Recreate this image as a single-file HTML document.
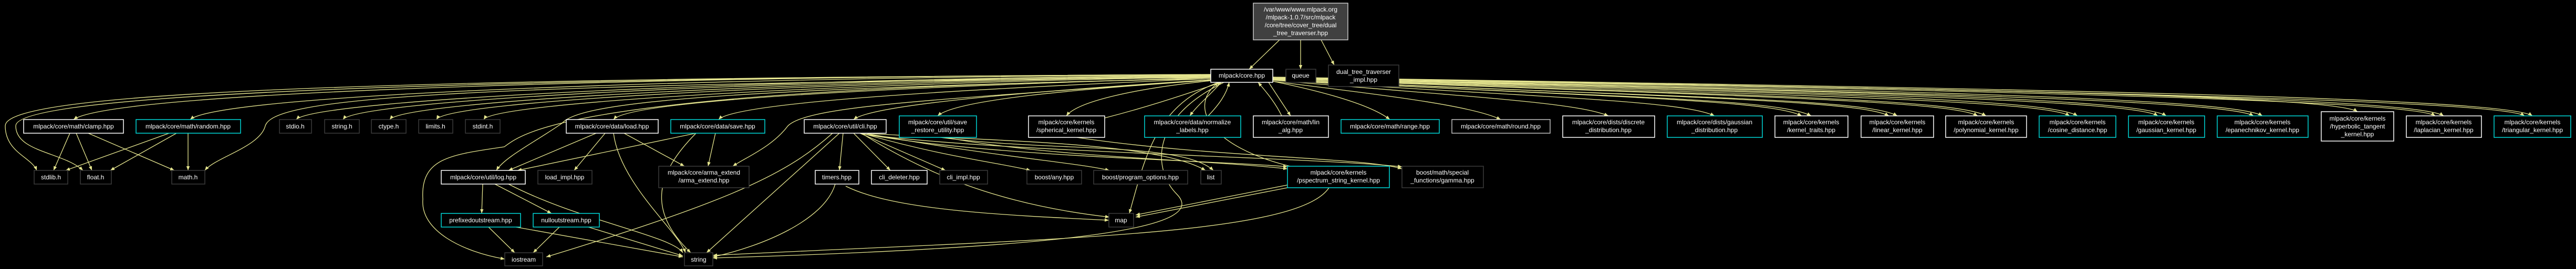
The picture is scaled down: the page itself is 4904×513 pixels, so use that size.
<!DOCTYPE html>
<html><head><meta charset="utf-8"><style>
html,body{margin:0;padding:0;background:#000;width:4904px;height:513px;overflow:hidden}
svg{display:block}
text{font-family:"Liberation Sans",sans-serif;font-size:12px;fill:#fff;text-anchor:middle}
.e{fill:none;stroke:#e6e68f;stroke-width:1.3}
.w{fill:#000;stroke:#fff;stroke-width:1.5}
.c{fill:#000;stroke:#00d8d8;stroke-width:1.5}
.g{fill:#000;stroke:#3a3a3a;stroke-width:1.5}
.l{fill:#000;stroke:#c0c0c0;stroke-width:1.5}
</style></head><body>
<svg width="4904" height="513" viewBox="0 0 4904 513" xmlns="http://www.w3.org/2000/svg">
<defs><marker id="a" viewBox="0 0 10 10" refX="10" refY="5" markerWidth="8" markerHeight="8" orient="auto" markerUnits="userSpaceOnUse"><path d="M0,1 L10,5 L0,9 z" fill="#e6e68f"/></marker></defs>
<g class="e" marker-end="url(#a)">
<path d="M2436,76 L2378,132"/><path d="M2476,76 L2476,132"/><path d="M2515,76 L2540,124"/>
<!-- core left fan -->
<path d="M2305,142 C1220,146 214,175 140,228"/>
<path d="M2305,143 C1330,147 420,180 362,228"/>
<path d="M2305,144 C1430,150 600,190 564,228"/>
<path d="M2305,144 C1480,152 680,190 653,228"/>
<path d="M2305,145 C1520,154 770,192 742,228"/>
<path d="M2305,146 C1570,156 850,192 831,228"/>
<path d="M2305,147 C1610,158 940,195 921,228"/>
<path d="M2305,148 C1730,165 1200,190 1168,228"/>
<path d="M2305,150 C1830,170 1400,195 1368,228"/>
<path d="M2305,152 C1950,175 1660,200 1625,228"/>
<path d="M2305,153 C2050,170 1820,190 1785,221"/>
<path d="M2305,154 C2150,170 2050,195 2030,221"/>
<path d="M2325,157 C2300,185 2280,200 2265,221"/>
<path d="M2305,142 C600,150 10,180 10,240 C10,290 60,300 70,325"/>
<path d="M2305,142 C700,150 30,185 30,240 C30,290 120,290 158,325"/>
<path d="M2305,148 C800,160 520,190 505,240 C495,280 410,300 390,325"/>
<path d="M2305,150 C1300,170 1100,200 1070,235 C1020,270 960,300 945,325"/>
<path d="M2305,152 C1800,190 1540,200 1500,240 C1470,280 1420,300 1395,317"/>
<path d="M2305,150 C1100,170 1000,250 960,280 C860,295 800,300 805,380 C800,440 880,480 961,494"/>
<!-- core right fan -->
<path d="M2415,157 L2457,221"/>
<path d="M2423,155 C2520,175 2610,200 2646,228"/>
<path d="M2423,155 C2620,180 2800,200 2857,228"/>
<path d="M2423,153 C2800,185 3000,195 3062,221"/>
<path d="M2423,152 C2900,185 3200,190 3264,221"/>
<path d="M2423,151 C3000,185 3380,185 3448,221"/>
<path d="M2423,151 C3100,185 3550,185 3612,221"/>
<path d="M2423,150 C3200,180 3720,185 3781,221"/>
<path d="M2423,150 C3300,175 3900,185 3955,221"/>
<path d="M2423,149 C3400,172 4070,185 4124,221"/>
<path d="M2423,149 C3500,170 4250,185 4307,221"/>
<path d="M2423,148 C3600,168 4440,180 4488,213"/>
<path d="M2423,148 C3700,168 4600,185 4652,221"/>
<path d="M2423,147 C3800,168 4770,185 4821,221"/>
<path d="M2423,152 C3050,185 3370,190 3430,221" />
<path d="M2423,151 C3150,185 3540,190 3596,221"/>
<path d="M2423,150 C3250,182 3710,190 3765,221"/>
<path d="M2423,150 C3350,180 3890,190 3940,221"/>
<path d="M2423,149 C3450,176 4060,190 4108,221"/>
<path d="M2423,149 C3550,174 4240,190 4290,221"/>
<path d="M2423,148 C3750,172 4590,190 4636,221"/>
<path d="M2423,147 C3850,172 4760,190 4806,221"/>
<!-- up into core -->
<path d="M2103,225 C2200,200 2270,175 2325,157"/>
<path d="M2300,221 C2320,200 2335,180 2340,157"/>
<path d="M2440,221 C2430,200 2415,180 2395,157"/>
<path d="M2460,318 C2300,280 2260,200 2320,157"/>
<!-- clamp/random -->
<path d="M133,254 L102,325"/><path d="M145,254 L175,325"/><path d="M168,254 L332,325"/>
<path d="M322,254 L125,325"/><path d="M336,254 L210,325"/><path d="M358,254 L358,325"/>
<!-- load/save -->
<path d="M1135,254 L968,325"/><path d="M1152,254 L1093,325"/><path d="M1188,254 L1303,317"/>
<path d="M1168,254 C1180,350 1290,440 1305,482"/>
<path d="M1325,254 L985,325"/><path d="M1362,254 L1348,317"/>
<path d="M1325,254 C1250,330 1230,400 1315,482"/>
<!-- log etc -->
<path d="M919,351 L917,407"/><path d="M942,351 L1050,407"/>
<path d="M968,351 C1100,420 1280,450 1300,482"/>
<path d="M930,433 L980,482"/><path d="M982,433 L1300,490"/>
<path d="M1065,433 L1015,482"/><path d="M1120,433 L1300,488"/>
<!-- cli -->
<path d="M1585,254 C1500,330 1400,380 1040,490"/>
<path d="M1598,254 L1345,482"/>
<path d="M1605,254 L1598,325"/>
<path d="M1625,254 L1695,325"/>
<path d="M1637,254 L1800,325"/>
<path d="M1640,254 C1800,300 1900,310 1962,325"/>
<path d="M1645,254 C1900,300 2050,310 2112,325"/>
<path d="M1645,254 C1900,270 2200,270 2295,325"/>
<path d="M1640,254 C1760,330 1900,390 2112,414"/>
<path d="M1645,256 C1900,300 2300,305 2451,318"/>
<path d="M1645,256 C1900,290 2500,300 2669,318"/>
<path d="M1590,351 C1570,420 1450,470 1357,490"/>
<path d="M1610,355 C1700,400 1900,410 2111,420"/>
<path d="M2451,358 L2162,414"/><path d="M2455,352 L2162,410"/>
<path d="M2530,358 C2470,450 2000,455 1357,487"/>
<path d="M2330,157 C2180,230 2200,330 2240,370 C2300,430 2100,470 1357,492"/>
<path d="M1790,262 C2000,290 2250,270 2310,325"/>
<path d="M1800,262 C2000,300 2300,305 2451,322"/>
<path d="M2050,262 C2300,300 2600,300 2669,322"/>
<path d="M2320,157 C2200,200 2180,300 2150,407"/>
</g>
<!-- nodes -->
<rect x="2386" y="6" width="180" height="70" fill="#404040" stroke="#c8c8c8" stroke-width="1.5"/>
<text x="2476" y="22">/var/www/www.mlpack.org</text><text x="2476" y="37">/mlpack-1.0.7/src/mlpack</text><text x="2476" y="52">/core/tree/cover_tree/dual</text><text x="2476" y="67">_tree_traverser.hpp</text>
<rect class="w" x="2305" y="132" width="118" height="25"/><text x="2364" y="148">mlpack/core.hpp</text>
<rect class="g" x="2448" y="132" width="57" height="25"/><text x="2476" y="148">queue</text>
<rect class="g" x="2529" y="124" width="134" height="41"/><text x="2596" y="141">dual_tree_traverser</text><text x="2596" y="156">_impl.hpp</text>
<rect class="w" x="45" y="228" width="190" height="26"/><text x="140" y="245">mlpack/core/math/clamp.hpp</text>
<rect class="c" x="259" y="228" width="199" height="26"/><text x="358" y="245">mlpack/core/math/random.hpp</text>
<rect class="g" x="532" y="228" width="61" height="26"/><text x="562" y="245">stdio.h</text>
<rect class="g" x="618" y="228" width="66" height="26"/><text x="651" y="245">string.h</text>
<rect class="g" x="707" y="228" width="66" height="26"/><text x="740" y="245">ctype.h</text>
<rect class="g" x="797" y="228" width="65" height="26"/><text x="829" y="245">limits.h</text>
<rect class="g" x="886" y="228" width="66" height="26"/><text x="919" y="245">stdint.h</text>
<rect class="w" x="1078" y="228" width="175" height="26"/><text x="1165" y="245">mlpack/core/data/load.hpp</text>
<rect class="c" x="1277" y="228" width="179" height="26"/><text x="1366" y="245">mlpack/core/data/save.hpp</text>
<rect class="w" x="1531" y="228" width="156" height="26"/><text x="1609" y="245">mlpack/core/util/cli.hpp</text>
<rect class="c" x="1712" y="221" width="147" height="41"/><text x="1785" y="237">mlpack/core/util/save</text><text x="1785" y="252">_restore_utility.hpp</text>
<rect class="w" x="1958" y="221" width="145" height="41"/><text x="2030" y="237">mlpack/core/kernels</text><text x="2030" y="252">/spherical_kernel.hpp</text>
<rect class="c" x="2179" y="221" width="183" height="41"/><text x="2270" y="237">mlpack/core/data/normalize</text><text x="2270" y="252">_labels.hpp</text>
<rect class="w" x="2386" y="221" width="143" height="41"/><text x="2457" y="237">mlpack/core/math/lin</text><text x="2457" y="252">_alg.hpp</text>
<rect class="c" x="2553" y="228" width="187" height="26"/><text x="2646" y="245">mlpack/core/math/range.hpp</text>
<rect class="l" x="2764" y="228" width="187" height="26"/><text x="2857" y="245">mlpack/core/math/round.hpp</text>
<rect class="w" x="2975" y="221" width="175" height="41"/><text x="3062" y="237">mlpack/core/dists/discrete</text><text x="3062" y="252">_distribution.hpp</text>
<rect class="c" x="3174" y="221" width="181" height="41"/><text x="3264" y="237">mlpack/core/dists/gaussian</text><text x="3264" y="252">_distribution.hpp</text>
<rect class="w" x="3379" y="221" width="139" height="41"/><text x="3448" y="237">mlpack/core/kernels</text><text x="3448" y="252">/kernel_traits.hpp</text>
<rect class="w" x="3543" y="221" width="138" height="41"/><text x="3612" y="237">mlpack/core/kernels</text><text x="3612" y="252">/linear_kernel.hpp</text>
<rect class="w" x="3704" y="221" width="154" height="41"/><text x="3781" y="237">mlpack/core/kernels</text><text x="3781" y="252">/polynomial_kernel.hpp</text>
<rect class="c" x="3882" y="221" width="146" height="41"/><text x="3955" y="237">mlpack/core/kernels</text><text x="3955" y="252">/cosine_distance.hpp</text>
<rect class="c" x="4052" y="221" width="145" height="41"/><text x="4124" y="237">mlpack/core/kernels</text><text x="4124" y="252">/gaussian_kernel.hpp</text>
<rect class="c" x="4221" y="221" width="173" height="41"/><text x="4307" y="237">mlpack/core/kernels</text><text x="4307" y="252">/epanechnikov_kernel.hpp</text>
<rect class="w" x="4419" y="213" width="138" height="56"/><text x="4488" y="230">mlpack/core/kernels</text><text x="4488" y="245">/hyperbolic_tangent</text><text x="4488" y="260">_kernel.hpp</text>
<rect class="w" x="4581" y="221" width="143" height="41"/><text x="4652" y="237">mlpack/core/kernels</text><text x="4652" y="252">/laplacian_kernel.hpp</text>
<rect class="c" x="4748" y="221" width="146" height="41"/><text x="4821" y="237">mlpack/core/kernels</text><text x="4821" y="252">/triangular_kernel.hpp</text>
<rect class="g" x="65" y="325" width="64" height="26"/><text x="97" y="342">stdlib.h</text>
<rect class="g" x="153" y="325" width="59" height="26"/><text x="182" y="342">float.h</text>
<rect class="g" x="327" y="325" width="63" height="26"/><text x="358" y="342">math.h</text>
<rect class="w" x="840" y="325" width="160" height="26"/><text x="920" y="342">mlpack/core/util/log.hpp</text>
<rect class="g" x="1024" y="325" width="103" height="26"/><text x="1075" y="342">load_impl.hpp</text>
<rect class="g" x="1254" y="317" width="172" height="41"/><text x="1340" y="333">mlpack/core/arma_extend</text><text x="1340" y="348">/arma_extend.hpp</text>
<rect class="w" x="1552" y="325" width="83" height="26"/><text x="1593" y="342">timers.hpp</text>
<rect class="w" x="1659" y="325" width="106" height="26"/><text x="1712" y="342">cli_deleter.hpp</text>
<rect class="g" x="1789" y="325" width="91" height="26"/><text x="1834" y="342">cli_impl.hpp</text>
<rect class="g" x="1955" y="325" width="104" height="26"/><text x="2007" y="342">boost/any.hpp</text>
<rect class="g" x="2082" y="325" width="179" height="26"/><text x="2171" y="342">boost/program_options.hpp</text>
<rect class="g" x="2286" y="325" width="39" height="26"/><text x="2305" y="342">list</text>
<rect class="c" x="2451" y="317" width="194" height="41"/><text x="2548" y="333">mlpack/core/kernels</text><text x="2548" y="348">/pspectrum_string_kernel.hpp</text>
<rect class="g" x="2669" y="317" width="155" height="41"/><text x="2746" y="333">boost/math/special</text><text x="2746" y="348">_functions/gamma.hpp</text>
<rect class="c" x="840" y="407" width="151" height="26"/><text x="915" y="424">prefixedoutstream.hpp</text>
<rect class="c" x="1015" y="407" width="126" height="26"/><text x="1078" y="424">nulloutstream.hpp</text>
<rect class="g" x="2111" y="407" width="47" height="26"/><text x="2134" y="424">map</text>
<rect class="g" x="961" y="482" width="72" height="25"/><text x="997" y="499">iostream</text>
<rect class="g" x="1303" y="482" width="54" height="25"/><text x="1330" y="499">string</text>
</svg>
</body></html>
